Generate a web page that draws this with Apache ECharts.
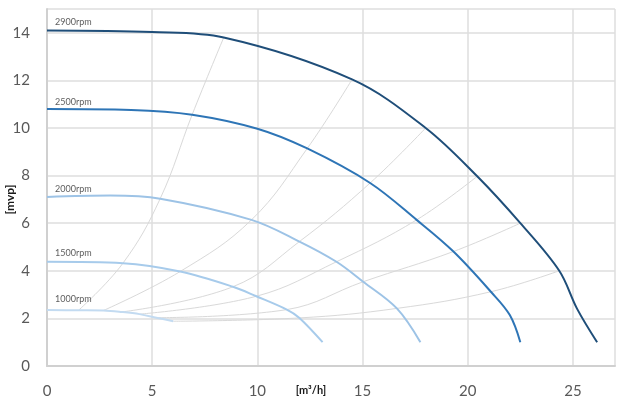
<!DOCTYPE html>
<html>
<head>
<meta charset="utf-8">
<script src="https://cdn.jsdelivr.net/npm/echarts@6/dist/echarts.min.js"></script>
<style>
html,body{margin:0;padding:0;background:#fff;}
#chart{width:619px;height:401px;}
</style>
</head>
<body>
<div id="chart"></div>
<script>
// ---- data ----
const rpmNames = ['2900rpm', '2500rpm', '2000rpm', '1500rpm', '1000rpm'];
const curve2900 = [[0,14.1],[5,14.03],[8.4,13.8],[14.5,12.04],[18,10.0],[20.45,7.97],[22.5,6.0],[24.35,4.0],[25.2,2.4],[26.15,1.0]];
const curve2500 = [[0,10.8],[4,10.76],[6.9,10.56],[10,9.97],[12.37,9.14],[15.36,7.69],[17.57,6.14],[19.32,4.81],[21.1,3.12],[22.0,2.14],[22.5,1.0]];
const curve2000 = [[0,7.1],[3,7.16],[5.38,7.03],[9.72,6.14],[12,5.23],[13.76,4.38],[15.03,3.54],[16.63,2.42],[17.75,1.0]];
const curve1500 = [[0,4.38],[3.61,4.32],[6.33,3.97],[8.84,3.33],[9.95,2.93],[11.4,2.37],[12.0,2.02],[13.1,1.0]];
const curve1000 = [[0,2.35],[1.5,2.34],[2.68,2.33],[3.55,2.27],[4.4,2.18],[5.2,2.03],[6.0,1.88]];

const isoA = [[1.5,2.34],[3.61,4.32],[5.38,7.03],[6.9,10.56],[8.4,13.8]];
const isoB = [[2.68,2.33],[6.33,3.97],[9.72,6.14],[12.37,9.14],[14.5,12.04]];
const isoC = [[3.55,2.27],[8.84,3.33],[12.0,5.23],[15.36,7.69],[18.0,10.0]];
const isoD = [[4.4,2.18],[9.95,2.93],[13.76,4.38],[17.57,6.14],[20.45,7.97]];
const isoE = [[5.2,2.03],[11.4,2.37],[15.03,3.54],[19.32,4.81],[22.5,6.0]];
const isoF = [[6.0,1.88],[12.0,2.02],[16.63,2.42],[21.1,3.12],[24.35,4.0]];

const xTicks = [0, 5, 10, 15, 20, 25];
const yTicks = [0, 2, 4, 6, 8, 10, 12, 14];
const xName = '[m³/h]';
const yName = '[mvp]';

// ---- build ----
const curves = [curve2900, curve2500, curve2000, curve1500, curve1000];
const isoLines = [isoA, isoB, isoC, isoD, isoE, isoF];
const curveColors = ['#1f4e79', '#2e75b6', '#9dc3e6', '#a7cbeb', '#c3dbf1'];
const labelOffsetY = [-8, -7, -8, -9, -11];

const series = [];
isoLines.forEach(function (d) {
  series.push({
    type: 'line', data: d, smooth: 0.4, symbol: 'none', silent: true,
    lineStyle: { color: '#d9d9d9', width: 1 }, z: 2
  });
});
curves.forEach(function (d, i) {
  series.push({
    type: 'line', data: d, smooth: 0.35, symbol: 'none', silent: true,
    lineStyle: { color: curveColors[i], width: 2 }, z: 3
  });
});
series.push({
  type: 'scatter', silent: true, symbolSize: 0, z: 4,
  data: curves.map(function (d, i) {
    return {
      value: [d[0][0], d[0][1], rpmNames[i]],
      label: { offset: [0, labelOffsetY[i]] }
    };
  }),
  itemStyle: { color: 'rgba(0,0,0,0)' },
  label: {
    show: true, position: 'right', distance: 8,
    formatter: function (p) { return p.value[2]; },
    fontFamily: 'Lato', fontSize: 9, color: '#333333'
  }
});

const chart = echarts.init(document.getElementById('chart'), null, { renderer: 'canvas' });
chart.setOption({
  animation: false,
  backgroundColor: '#fff',
  grid: { left: 47, right: 4, top: 9, bottom: 35, containLabel: false, outerBoundsMode: 'none' },
  xAxis: {
    type: 'value', min: 0, max: 27, interval: 5,
    name: xName, nameLocation: 'middle', nameGap: 19, nameMoveOverlap: false,
    nameTextStyle: { fontFamily: 'Lato', fontWeight: 700, fontSize: 11, color: '#1a1a1a', padding: [0, 40, 0, 0] },
    axisLine: { lineStyle: { color: '#d0d0d0', width: 2 } },
    axisTick: { show: false },
    splitLine: { lineStyle: { color: '#dedede', width: 1.5 } },
    axisLabel: {
      margin: 18, fontFamily: 'Lato', fontSize: 15, color: '#595959',
      formatter: function (v) { return xTicks.indexOf(v) >= 0 ? String(v) : ''; }
    }
  },
  yAxis: {
    type: 'value', min: 0, max: 15, interval: 2,
    name: yName, nameLocation: 'middle', nameGap: 31, nameRotate: 90, nameMoveOverlap: false,
    nameTextStyle: { fontFamily: 'Lato', fontWeight: 700, fontSize: 12, color: '#1a1a1a', padding: [0, 24, 0, 0] },
    axisLine: { show: true, lineStyle: { color: '#d0d0d0', width: 2 } },
    axisTick: { show: false },
    splitLine: { lineStyle: { color: '#dedede', width: 1.5 } },
    axisLabel: {
      margin: 17, fontFamily: 'Lato', fontSize: 15, color: '#595959',
      formatter: function (v) { return yTicks.indexOf(v) >= 0 ? String(v) : ''; }
    }
  },
  series: series
});
</script>
</body>
</html>
